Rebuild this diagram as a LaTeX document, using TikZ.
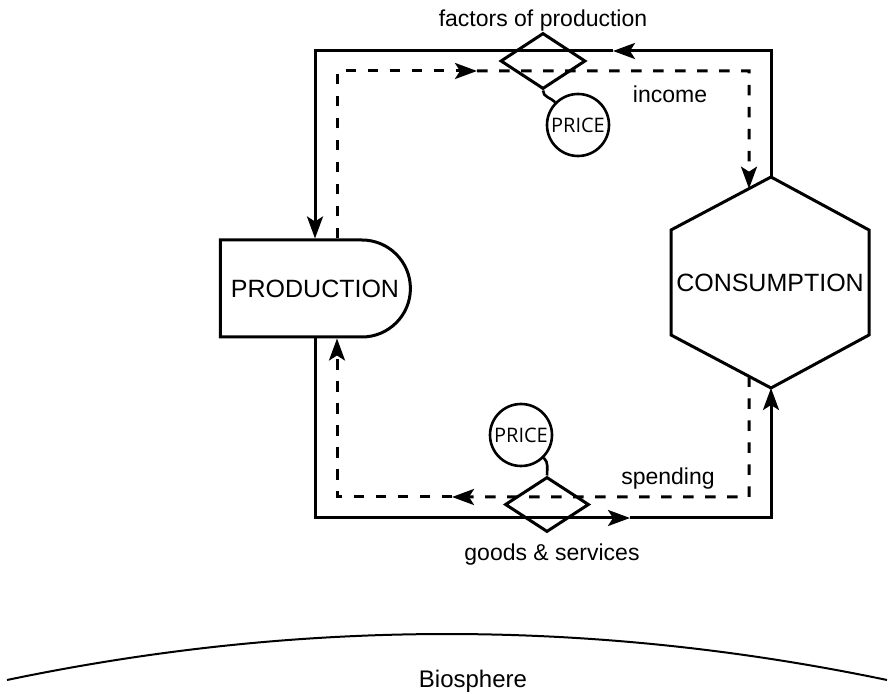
\documentclass[tikz,border=0pt]{standalone}
\usepackage{fontspec}
\setmainfont{Liberation Sans}
\newfontfamily\pricefont{Open Sans}
\usetikzlibrary{arrows.meta,shapes.geometric,shapes.misc,calc}
\begin{document}
\begin{tikzpicture}[x=1pt,y=1pt,
  flow/.style={line width=3pt},
  money/.style={line width=3pt, dash pattern=on 10.5pt off 11.5pt},
  tip/.style={-{Stealth[length=22pt,width=16pt,inset=5pt]}},
  lbl/.style={font=\fontsize{23}{26}\selectfont, inner sep=0pt},
  big/.style={font=\fontsize{25}{28}\selectfont},
  price/.style={circle, draw, line width=2.6pt, minimum size=62pt, inner sep=0pt, font=\pricefont\fontsize{20}{22}\selectfont},
  market/.style={diamond, draw, line width=3pt, inner sep=0pt, minimum width=85pt, minimum height=56pt},
  link/.style={line width=2.6pt},
]
\useasboundingbox (0,0) rectangle (888,693);

% production and consumption
\node[draw, line width=3pt, rounded rectangle, rounded rectangle left arc=none,
      minimum width=190pt, minimum height=97pt, inner sep=0pt, big] (prod) at (315,404.5) {PRODUCTION};
\node[big, inner sep=0pt] (cons) at (770,410.5) {CONSUMPTION};
\coordinate (htop) at (771,516);
\coordinate (hul) at (671,463);
\coordinate (hll) at (671,358);
\coordinate (hbot) at (771,305);
\coordinate (hlr) at (869,358);
\coordinate (hur) at (869,463);
\draw[line width=3pt, line join=miter] (htop)--(hul)--(hll)--(hbot)--(hlr)--(hur)--cycle;

% markets and prices
\node[market] (fmkt) at (543,632) {};
\node[market, minimum width=84pt, minimum height=55pt] (gmkt) at (547,188.5) {};
\node[price] (p1) at (578,568) {PRICE};
\node[price] (p2) at (521,258) {PRICE};
\draw[link] (fmkt.south) to[out=-90,in=135] (p1.135);
\draw[link] (p2.-45) to[out=-45,in=90] (gmkt.north);

% real flows (solid)
\coordinate (otr) at (771,642);
\coordinate (otl) at (315,642);
\coordinate (obl) at (315,175);
\coordinate (obr) at (771,175);
\coordinate (otm) at (613,642);
\coordinate (obm) at (630,175);
\draw[flow,tip] (htop) -- (otr) -- (otm);
\draw[flow,tip] (otm) -- (otl) -- (prod.north);
\draw[flow,tip] (prod.south) -- (obl) -- (obm);
\draw[flow,tip] (obm) -- (obr) -- (hbot);

% money flows (dashed)
\coordinate (dtl) at (337,622);
\coordinate (dtr) at (749,622);
\coordinate (dtm) at (477,622);
\coordinate (dbl) at (337,196);
\coordinate (dbr) at (749,196);
\coordinate (dbm) at (452,196);
\coordinate (hin) at ($(hul)!0.78!(htop)$);
\coordinate (hout) at ($(hll)!0.78!(hbot)$);
\draw[money,tip] (dtl |- prod.north) -- (dtl) -- (dtm);
\draw[money,tip] (dtm) -- (dtr) -- (hin);
\draw[money,tip] (hout) -- (dbr) -- (dbm);
\draw[money,tip] (dbm) -- (dbl) -- (dbl |- prod.south);

% labels
\node[lbl] (fop) at (543,672) {factors of production};
\node[lbl] (inc) at (670,599) {income};
\node[lbl] (spd) at (668,214) {spending};
\node[lbl] (gs) at (552,138) {goods \& services};

% biosphere
\draw[line width=2pt] (7,13) .. controls (300.3,74.3) and (593.7,74.3) .. (887,13);
\node[font=\fontsize{24}{28}\selectfont, inner sep=0pt, anchor=base] (bio) at (473,6) {Biosphere};
\end{tikzpicture}
\end{document}
